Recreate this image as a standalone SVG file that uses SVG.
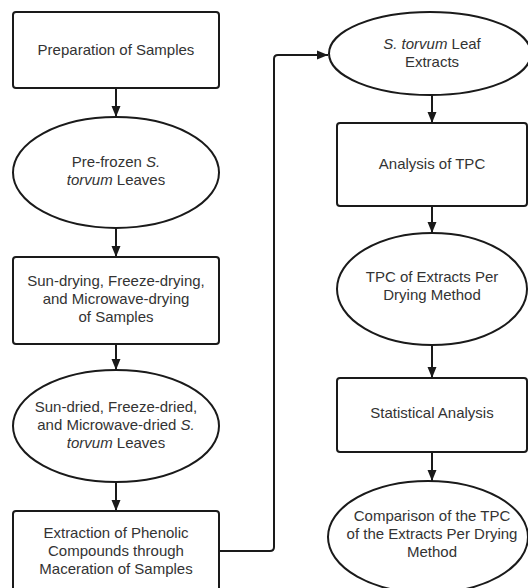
<svg xmlns="http://www.w3.org/2000/svg" width="528" height="588" viewBox="0 0 528 588">
<defs>
<style>
.n{fill:#fff;stroke:#1a1a1a;stroke-width:2}
.t{font-family:"Liberation Sans",Arial,sans-serif;font-size:15px;fill:#333;text-anchor:middle}
.c{fill:none;stroke:#1a1a1a;stroke-width:2}
</style>
<marker id="ah" markerUnits="userSpaceOnUse" markerWidth="12" markerHeight="12" viewBox="0 0 12 12" refX="11" refY="6" orient="auto">
<path d="M0,1.5 L11,6 L0,10.5 Z" fill="#1a1a1a"/>
</marker>
</defs>
<rect width="528" height="588" fill="#fff"/>
<g id="connectors">
<line class="c" x1="116" y1="88" x2="116" y2="117" marker-end="url(#ah)"/>
<line class="c" x1="116" y1="228" x2="116" y2="257" marker-end="url(#ah)"/>
<line class="c" x1="116" y1="344" x2="116" y2="370" marker-end="url(#ah)"/>
<line class="c" x1="116" y1="482" x2="116" y2="511" marker-end="url(#ah)"/>
<path class="c" d="M219,551 H270 Q274,551 274,547 V59 Q274,55 278,55 H328" marker-end="url(#ah)"/>
<line class="c" x1="432" y1="95" x2="432" y2="123" marker-end="url(#ah)"/>
<line class="c" x1="432" y1="206" x2="432" y2="233" marker-end="url(#ah)"/>
<line class="c" x1="432" y1="345" x2="432" y2="378" marker-end="url(#ah)"/>
<line class="c" x1="432" y1="452" x2="432" y2="481" marker-end="url(#ah)"/>
</g>
<g id="n1">
<rect class="n" x="13" y="12" width="206" height="76" rx="3"/>
<text class="t" x="116" y="55">Preparation of Samples</text>
</g>
<g id="n2">
<ellipse class="n" cx="116" cy="172.5" rx="103" ry="55.5"/>
<text class="t" x="116" y="167">Pre-frozen <tspan font-style="italic">S.</tspan></text>
<text class="t" x="116" y="185"><tspan font-style="italic">torvum</tspan> Leaves</text>
</g>
<g id="n3">
<rect class="n" x="13" y="257" width="206" height="87" rx="3"/>
<text class="t" x="116" y="286">Sun-drying, Freeze-drying,</text>
<text class="t" x="116" y="304">and Microwave-drying</text>
<text class="t" x="116" y="322">of Samples</text>
</g>
<g id="n4">
<ellipse class="n" cx="116" cy="426" rx="103" ry="56"/>
<text class="t" x="116" y="412">Sun-dried, Freeze-dried,</text>
<text class="t" x="116" y="430">and Microwave-dried <tspan font-style="italic">S.</tspan></text>
<text class="t" x="116" y="448"><tspan font-style="italic">torvum</tspan> Leaves</text>
</g>
<g id="n5">
<rect class="n" x="13" y="511" width="206" height="82" rx="3"/>
<text class="t" x="116" y="538">Extraction of Phenolic</text>
<text class="t" x="116" y="556">Compounds through</text>
<text class="t" x="116" y="574">Maceration of Samples</text>
</g>
<g id="n6">
<ellipse class="n" cx="430" cy="53.5" rx="101" ry="41.5"/>
<text class="t" x="432" y="49"><tspan font-style="italic">S. torvum</tspan> Leaf</text>
<text class="t" x="432" y="67">Extracts</text>
</g>
<g id="n7">
<rect class="n" x="337" y="123" width="190" height="83" rx="3"/>
<text class="t" x="432" y="169">Analysis of TPC</text>
</g>
<g id="n8">
<ellipse class="n" cx="432" cy="289" rx="95" ry="56"/>
<text class="t" x="432" y="282">TPC of Extracts Per</text>
<text class="t" x="432" y="300">Drying Method</text>
</g>
<g id="n9">
<rect class="n" x="337" y="378" width="190" height="74" rx="3"/>
<text class="t" x="432" y="418">Statistical Analysis</text>
</g>
<g id="n10">
<ellipse class="n" cx="428" cy="537" rx="100" ry="56"/>
<text class="t" x="432" y="521">Comparison of the TPC</text>
<text class="t" x="432" y="539">of the Extracts Per Drying</text>
<text class="t" x="432" y="557">Method</text>
</g>
</svg>
